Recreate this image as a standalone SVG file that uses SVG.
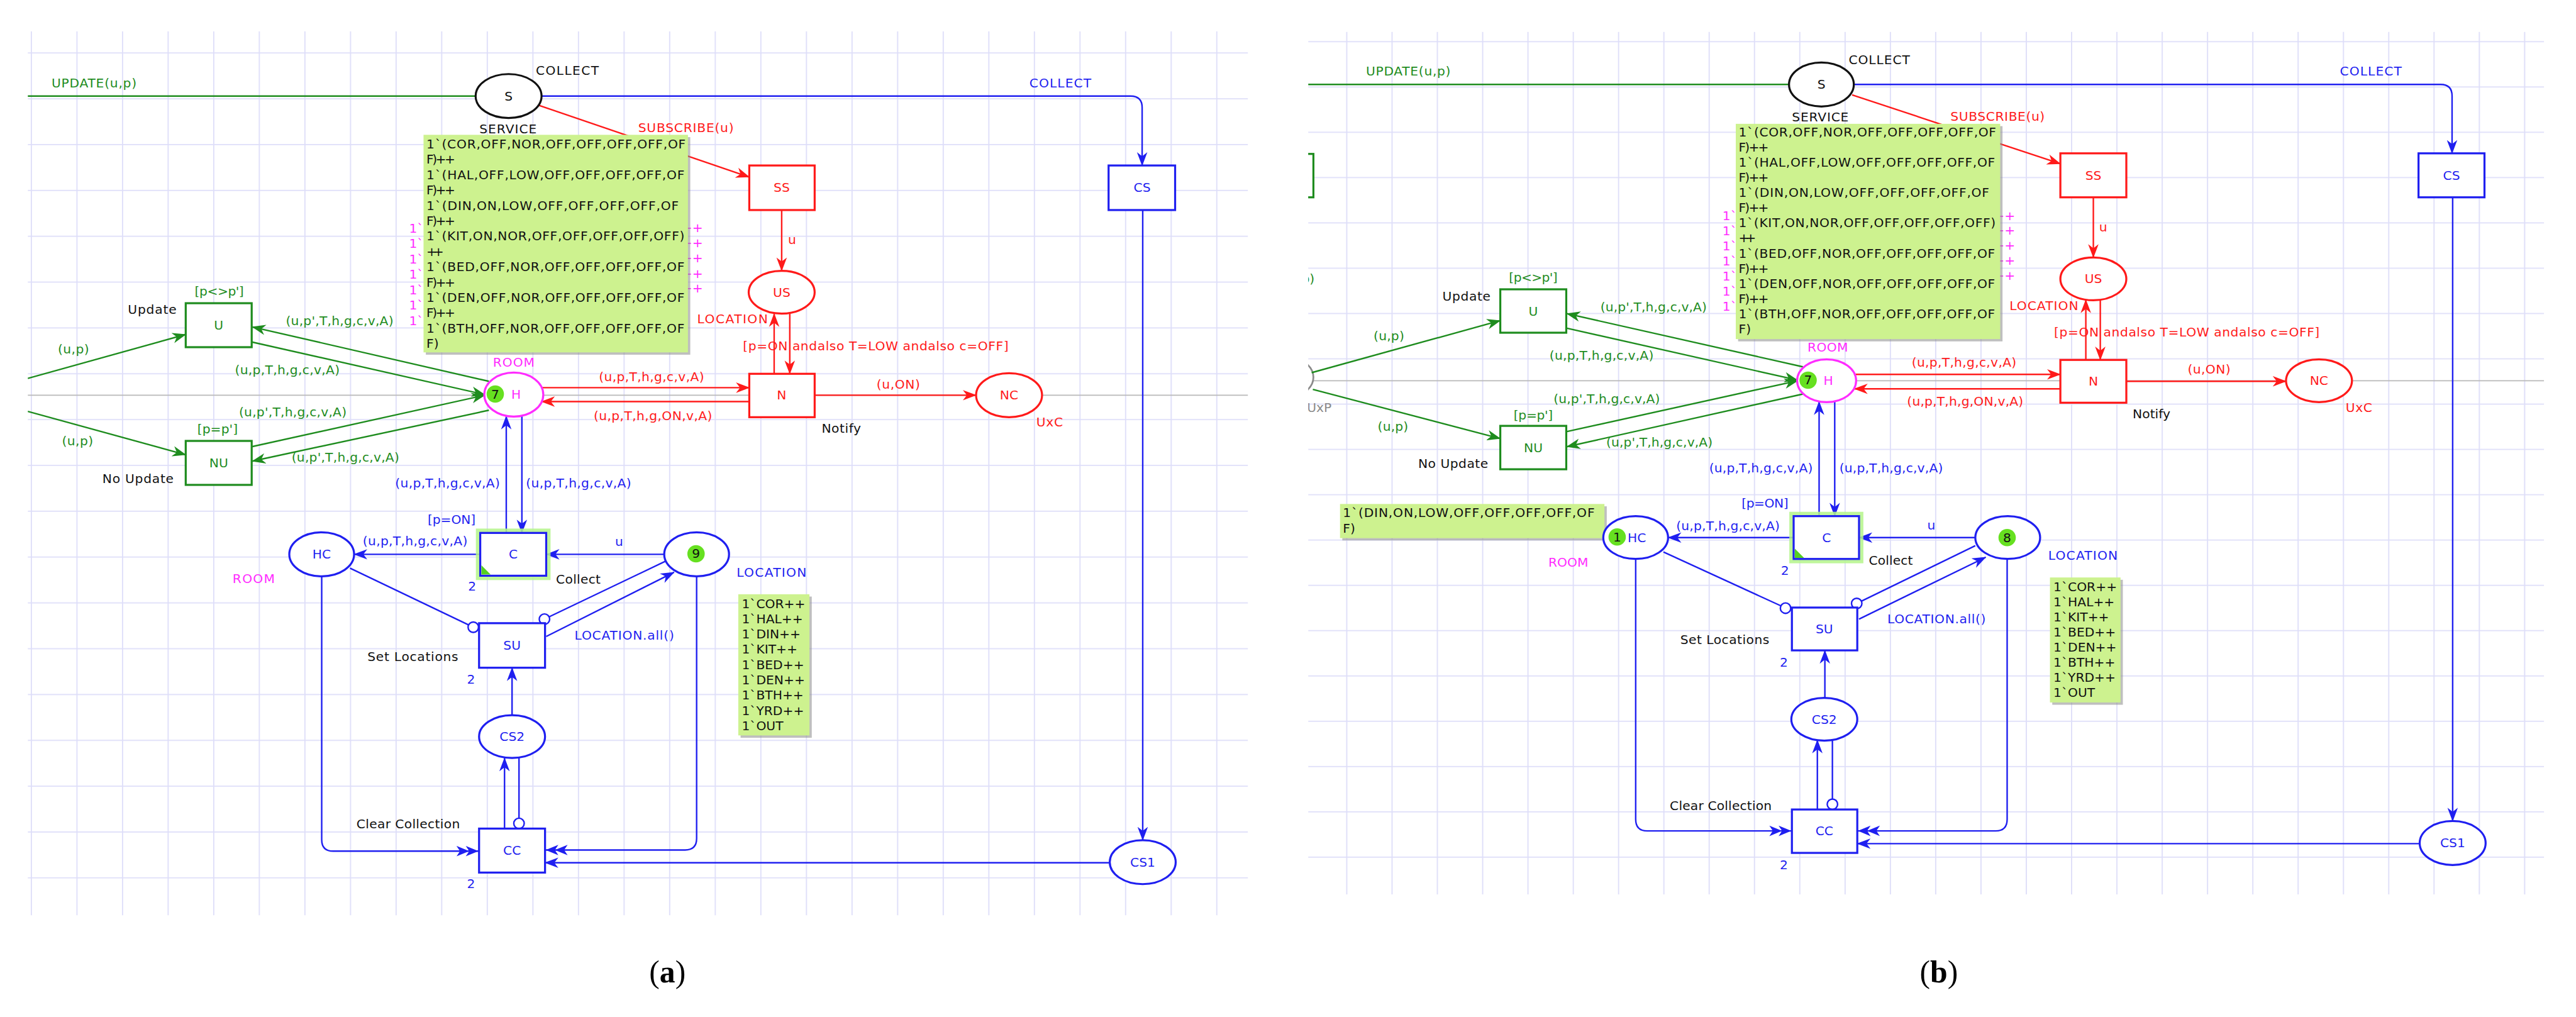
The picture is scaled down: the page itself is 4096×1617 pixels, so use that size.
<svg xmlns="http://www.w3.org/2000/svg" width="4096" height="1617" viewBox="0 0 4096 1617">
<style>
text{font-family:"DejaVu Sans","Liberation Sans",sans-serif;font-size:22px;dominant-baseline:central}
.tg{fill:#1e8c1e}.tr{fill:#ff1a1a}.tb{fill:#1f1ff0}.tk{fill:#111}.tm{fill:#ff2cff}.tgr{fill:#8a8a8a}
.mid{text-anchor:middle}.end{text-anchor:end}
.ng{fill:#fff;stroke:#1e8c1e;stroke-width:3.5}
.nr{fill:#fff;stroke:#ff1a1a;stroke-width:3.5}
.nb{fill:#fff;stroke:#1f1ff0;stroke-width:3.5}
.nk{fill:#fff;stroke:#111;stroke-width:3.5}
.nm{fill:#fff;stroke:#ff2cff;stroke-width:3.5}
.ag{fill:none;stroke:#1e8c1e;stroke-width:2.6}
.ar{fill:none;stroke:#ff1a1a;stroke-width:2.6}
.ab{fill:none;stroke:#1f1ff0;stroke-width:2.6}
.inh{fill:#fff;stroke:#1f1ff0;stroke-width:2.6}
.note{fill:#cdf28f}.shadow{fill:#8a8a8a;opacity:.55}
.nt{fill:#111;font-size:22px}
.tok{fill:#66e020}
.glow{fill:none;stroke:#b4f58a;stroke-width:7;opacity:.85}
.gray{stroke:#b9b9b9;stroke-width:2}
.lbl{font-family:"Liberation Serif",serif;font-size:54px;fill:#000;dominant-baseline:alphabetic}
</style>
<defs>
<pattern id="gridA" patternUnits="userSpaceOnUse" x="132" y="90.5" width="78.8" height="79.2"><path d="M0,1 H78.8 M1,0 V79.2" stroke="#dedef9" stroke-width="2" fill="none"/></pattern>
<pattern id="gridB" patternUnits="userSpaceOnUse" x="2326.6" y="71" width="78.3" height="78.3"><path d="M0,1 H78.3 M1,0 V78.3" stroke="#dedef9" stroke-width="2" fill="none"/></pattern>
<clipPath id="clipA"><rect x="48" y="54" width="2109" height="1528"/></clipPath>
<clipPath id="clipB"><rect x="2261" y="55" width="2136" height="1491"/></clipPath>
<marker id="mg" markerUnits="userSpaceOnUse" viewBox="0 0 24 20" markerWidth="24" markerHeight="20" refX="23" refY="10" orient="auto"><path d="M0,1 L24,10 L0,19 L7,10 z" fill="#1e8c1e"/></marker>
<marker id="mr" markerUnits="userSpaceOnUse" viewBox="0 0 24 20" markerWidth="24" markerHeight="20" refX="23" refY="10" orient="auto"><path d="M0,1 L24,10 L0,19 L7,10 z" fill="#ff1a1a"/></marker>
<marker id="mb" markerUnits="userSpaceOnUse" viewBox="0 0 24 20" markerWidth="24" markerHeight="20" refX="23" refY="10" orient="auto"><path d="M0,1 L24,10 L0,19 L7,10 z" fill="#1f1ff0"/></marker>
<marker id="mbb" markerUnits="userSpaceOnUse" viewBox="0 0 40 20" markerWidth="40" markerHeight="20" refX="39" refY="10" orient="auto"><path d="M0,1 L22,10 L0,19 L6,10 z M16,1 L38,10 L16,19 L22,10 z" fill="#1f1ff0"/></marker>
</defs>
<rect width="4096" height="1617" fill="#fff"/>
<g transform="scale(0.92)">

<!-- ================= PANEL A ================= -->
<g id="panelA" clip-path="url(#clipA)">
<rect x="48" y="54" width="2109" height="1528" fill="url(#gridA)"/>
<line class="gray" x1="48" y1="683" x2="2157" y2="683"/>

<g id="a-marking">
<text class="tm" x="707" y="395">1`</text><text class="tm" x="707" y="421">1`</text><text class="tm" x="707" y="448">1`</text><text class="tm" x="707" y="474">1`</text><text class="tm" x="707" y="501">1`</text><text class="tm" x="707" y="527">1`</text><text class="tm" x="707" y="554">1`</text>
<text class="tm" x="1178" y="393">++</text><text class="tm" x="1178" y="420">++</text><text class="tm" x="1178" y="446">++</text><text class="tm" x="1178" y="473">++</text><text class="tm" x="1178" y="498">++</text>
</g>

<g id="a-connectors">
<line class="ag" x1="48" y1="166" x2="822" y2="166"/>
<line class="ag" x1="48" y1="654" x2="321" y2="578" marker-end="url(#mg)"/>
<line class="ag" x1="48" y1="711" x2="321" y2="786" marker-end="url(#mg)"/>
<line class="ag" x1="845" y1="659" x2="436" y2="565" marker-end="url(#mg)"/>
<line class="ag" x1="435" y1="591" x2="838" y2="682" marker-end="url(#mg)"/>
<line class="ag" x1="435" y1="772" x2="838" y2="683" marker-end="url(#mg)"/>
<line class="ag" x1="845" y1="709" x2="436" y2="797" marker-end="url(#mg)"/>
<line class="ar" x1="931" y1="182" x2="1295" y2="306" marker-end="url(#mr)"/>
<line class="ar" x1="1351" y1="363" x2="1351" y2="468" marker-end="url(#mr)"/>
<line class="ar" x1="1338" y1="646" x2="1338" y2="542" marker-end="url(#mr)"/>
<line class="ar" x1="1365" y1="541" x2="1365" y2="646" marker-end="url(#mr)"/>
<line class="ar" x1="937" y1="670" x2="1295" y2="670" marker-end="url(#mr)"/>
<line class="ar" x1="1295" y1="694" x2="936" y2="694" marker-end="url(#mr)"/>
<line class="ar" x1="1408" y1="683" x2="1687" y2="683" marker-end="url(#mr)"/>
<path class="ab" d="M936,166 H1954 Q1974,166 1974,186 V286" marker-end="url(#mb)"/>
<line class="ab" x1="875" y1="921" x2="875" y2="719" marker-end="url(#mb)"/>
<line class="ab" x1="902" y1="719" x2="902" y2="921" marker-end="url(#mb)"/>
<line class="ab" x1="830" y1="958" x2="612" y2="958" marker-end="url(#mb)"/>
<line class="ab" x1="1148" y1="958" x2="944" y2="958" marker-end="url(#mb)"/>
<line class="ab" x1="605" y1="982" x2="810" y2="1080"/>
<line class="ab" x1="949" y1="1066" x2="1150" y2="970"/>
<line class="ab" x1="944" y1="1100" x2="1165" y2="989" marker-end="url(#mb)"/>
<line class="ab" x1="885" y1="1236" x2="885" y2="1154" marker-end="url(#mb)"/>
<line class="ab" x1="872" y1="1432" x2="872" y2="1310" marker-end="url(#mb)"/>
<line class="ab" x1="897" y1="1310" x2="897" y2="1414"/>
<path class="ab" d="M556,996 V1451 Q556,1471 576,1471 H828" marker-end="url(#mbb)"/>
<path class="ab" d="M1204,996 V1449 Q1204,1469 1184,1469 H942" marker-end="url(#mbb)"/>
<line class="ab" x1="1918" y1="1491" x2="942" y2="1491" marker-end="url(#mb)"/>
<line class="ab" x1="1975" y1="363" x2="1975" y2="1452" marker-end="url(#mb)"/>
<circle class="inh" cx="818" cy="1084" r="9"/>
<circle class="inh" cx="941" cy="1070" r="9"/>
<circle class="inh" cx="897" cy="1423" r="9"/>
</g>

<g id="a-note-room">
<rect class="shadow" x="736" y="237" width="457" height="376"/>
<rect class="note" x="732" y="233" width="457" height="376"/>
<text class="nt" x="737" y="249" textLength="448">1`(COR,OFF,NOR,OFF,OFF,OFF,OFF,OF</text>
<text class="nt" x="737" y="275.5" textLength="50">F)++</text>
<text class="nt" x="737" y="302" textLength="446">1`(HAL,OFF,LOW,OFF,OFF,OFF,OFF,OF</text>
<text class="nt" x="737" y="328.5" textLength="50">F)++</text>
<text class="nt" x="737" y="355" textLength="436">1`(DIN,ON,LOW,OFF,OFF,OFF,OFF,OF</text>
<text class="nt" x="737" y="381.5" textLength="50">F)++</text>
<text class="nt" x="737" y="408" textLength="446">1`(KIT,ON,NOR,OFF,OFF,OFF,OFF,OFF)</text>
<text class="nt" x="737" y="434.5" textLength="30">++</text>
<text class="nt" x="737" y="461" textLength="446">1`(BED,OFF,NOR,OFF,OFF,OFF,OFF,OF</text>
<text class="nt" x="737" y="487.5" textLength="50">F)++</text>
<text class="nt" x="737" y="514" textLength="446">1`(DEN,OFF,NOR,OFF,OFF,OFF,OFF,OF</text>
<text class="nt" x="737" y="540.5" textLength="50">F)++</text>
<text class="nt" x="737" y="567" textLength="446">1`(BTH,OFF,NOR,OFF,OFF,OFF,OFF,OF</text>
<text class="nt" x="737" y="593.5">F)</text>
</g>
<g id="a-note-loc">
<rect class="shadow" x="1280" y="1031" width="123" height="244"/>
<rect class="note" x="1276" y="1027" width="123" height="244"/>
<text class="nt" x="1282" y="1043">1`COR++</text>
<text class="nt" x="1282" y="1069.4">1`HAL++</text>
<text class="nt" x="1282" y="1095.8">1`DIN++</text>
<text class="nt" x="1282" y="1122.2">1`KIT++</text>
<text class="nt" x="1282" y="1148.6">1`BED++</text>
<text class="nt" x="1282" y="1175">1`DEN++</text>
<text class="nt" x="1282" y="1201.4">1`BTH++</text>
<text class="nt" x="1282" y="1227.8">1`YRD++</text>
<text class="nt" x="1282" y="1254.2">1`OUT</text>
</g>

<g id="a-S"><ellipse class="nk" cx="879" cy="166" rx="57" ry="38"/><text class="tk mid" x="879" y="166">S</text>
<text class="tk" x="926" y="122" textLength="109">COLLECT</text><text class="tk mid" x="878" y="223" textLength="99">SERVICE</text></g>
<g id="a-U"><rect class="ng" x="321" y="524" width="114" height="76"/><text class="tg mid" x="378" y="562">U</text>
<text class="tg mid" x="379" y="503" textLength="85">[p&lt;&gt;p']</text><text class="tk end" x="305" y="535" textLength="84">Update</text></g>
<g id="a-NU"><rect class="ng" x="321" y="762" width="114" height="76"/><text class="tg mid" x="378" y="800">NU</text>
<text class="tg mid" x="376" y="741" textLength="70">[p=p']</text><text class="tk end" x="300" y="827" textLength="123">No Update</text></g>
<g id="a-H"><ellipse class="nm" cx="888" cy="682" rx="51" ry="38"/><circle class="tok" cx="856" cy="681" r="15"/><text class="tk mid" x="856" y="681">7</text><text class="tm mid" x="892" y="682">H</text>
<text class="tm" x="852" y="626" textLength="72">ROOM</text></g>
<g id="a-SS"><rect class="nr" x="1295" y="286" width="113" height="77"/><text class="tr mid" x="1351" y="324">SS</text></g>
<g id="a-US"><ellipse class="nr" cx="1351" cy="505" rx="57" ry="37"/><text class="tr mid" x="1351" y="505">US</text>
<text class="tr" x="1205" y="551" textLength="122">LOCATION</text></g>
<g id="a-N"><rect class="nr" x="1295" y="646" width="113" height="75"/><text class="tr mid" x="1351" y="683">N</text>
<text class="tk" x="1420" y="740" textLength="68">Notify</text></g>
<g id="a-NC"><ellipse class="nr" cx="1744" cy="683" rx="57" ry="38"/><text class="tr mid" x="1744" y="683">NC</text>
<text class="tr" x="1791" y="729" textLength="46">UxC</text></g>
<g id="a-CS"><rect class="nb" x="1916" y="286" width="115" height="77"/><text class="tb mid" x="1974" y="324">CS</text></g>
<g id="a-C"><rect class="glow" x="826" y="917" width="122" height="82"/><rect class="nb" x="830" y="921" width="114" height="74"/><path d="M832,993 V977 L848,993 z" fill="#55d020"/><text class="tb mid" x="887" y="958">C</text>
<text class="tb mid" x="816" y="1013">2</text><text class="tk" x="961" y="1001" textLength="77">Collect</text><text class="tb" x="739" y="898" textLength="83">[p=ON]</text></g>
<g id="a-HC"><ellipse class="nb" cx="556" cy="958" rx="56" ry="38"/><text class="tb mid" x="556" y="958">HC</text>
<text class="tm" x="402" y="1000" textLength="73">ROOM</text></g>
<g id="a-LOC"><ellipse class="nb" cx="1204" cy="958" rx="56" ry="38"/><circle class="tok" cx="1203" cy="957" r="15"/><text class="tk mid" x="1203" y="957">9</text>
<text class="tb" x="1273" y="989" textLength="121">LOCATION</text></g>
<g id="a-SU"><rect class="nb" x="828" y="1077" width="114" height="77"/><text class="tb mid" x="885" y="1115">SU</text>
<text class="tb mid" x="814" y="1174">2</text><text class="tk" x="635" y="1135" textLength="157">Set Locations</text></g>
<g id="a-CS2"><ellipse class="nb" cx="885" cy="1273" rx="57" ry="37"/><text class="tb mid" x="885" y="1273">CS2</text></g>
<g id="a-CC"><rect class="nb" x="828" y="1432" width="114" height="76"/><text class="tb mid" x="885" y="1470">CC</text>
<text class="tb mid" x="814" y="1527">2</text><text class="tk" x="616" y="1424" textLength="179">Clear Collection</text></g>
<g id="a-CS1"><ellipse class="nb" cx="1975" cy="1490" rx="57" ry="38"/><text class="tb mid" x="1975" y="1490">CS1</text></g>

<g id="a-arc-labels">
<text class="tg" x="89" y="144" textLength="147">UPDATE(u,p)</text>
<text class="tr" x="1103" y="221" textLength="165">SUBSCRIBE(u)</text>
<text class="tb" x="1779" y="143" textLength="107">COLLECT</text>
<text class="tr" x="1362" y="414">u</text>
<text class="tr" x="1284" y="598" textLength="459">[p=ON andalso T=LOW andalso c=OFF]</text>
<text class="tr" x="1035" y="651" textLength="182">(u,p,T,h,g,c,v,A)</text>
<text class="tr" x="1026" y="718" textLength="205">(u,p,T,h,g,ON,v,A)</text>
<text class="tr" x="1515" y="664" textLength="75">(u,ON)</text>
<text class="tg" x="100" y="603" textLength="54">(u,p)</text>
<text class="tg" x="494" y="554" textLength="186">(u,p',T,h,g,c,v,A)</text>
<text class="tg" x="406" y="639" textLength="181">(u,p,T,h,g,c,v,A)</text>
<text class="tg" x="413" y="712" textLength="186">(u,p',T,h,g,c,v,A)</text>
<text class="tg" x="107" y="762" textLength="54">(u,p)</text>
<text class="tg" x="504" y="790" textLength="186">(u,p',T,h,g,c,v,A)</text>
<text class="tb" x="683" y="835" textLength="181">(u,p,T,h,g,c,v,A)</text>
<text class="tb" x="909" y="835" textLength="182">(u,p,T,h,g,c,v,A)</text>
<text class="tb" x="627" y="935" textLength="181">(u,p,T,h,g,c,v,A)</text>
<text class="tb" x="1063" y="936">u</text>
<text class="tb" x="993" y="1098" textLength="172">LOCATION.all()</text>
</g>
</g>

<!-- ================= PANEL B ================= -->
<g id="panelB" clip-path="url(#clipB)">
<rect x="2261" y="55" width="2136" height="1491" fill="url(#gridB)"/>
<line class="gray" x1="2261" y1="658" x2="4397" y2="658"/>

<g id="b-partial">
<rect class="ng" x="2156" y="266" width="114" height="75"/>
<text class="tg end" x="2272" y="482">(u,p)</text>
<ellipse cx="2214" cy="652" rx="56" ry="38" fill="#fff" stroke="#8a8a8a" stroke-width="3"/>
<text class="tgr" x="2259" y="704">UxP</text>
</g>

<g id="b-marking">
<text class="tm" x="2977" y="373">1`</text><text class="tm" x="2977" y="399">1`</text><text class="tm" x="2977" y="425">1`</text><text class="tm" x="2977" y="451">1`</text><text class="tm" x="2977" y="477">1`</text><text class="tm" x="2977" y="503">1`</text><text class="tm" x="2977" y="529">1`</text>
<text class="tm" x="3446" y="373">++</text><text class="tm" x="3446" y="398">++</text><text class="tm" x="3446" y="424">++</text><text class="tm" x="3446" y="450">++</text><text class="tm" x="3446" y="476">++</text>
</g>

<g id="b-connectors">
<line class="ag" x1="2261" y1="146" x2="3092" y2="146"/>
<line class="ag" x1="2267" y1="644" x2="2593" y2="554" marker-end="url(#mg)"/>
<line class="ag" x1="2269" y1="673" x2="2593" y2="758" marker-end="url(#mg)"/>
<line class="ag" x1="3116" y1="634" x2="2708" y2="542" marker-end="url(#mg)"/>
<line class="ag" x1="2707" y1="567" x2="3107" y2="657" marker-end="url(#mg)"/>
<line class="ag" x1="2707" y1="746" x2="3107" y2="658" marker-end="url(#mg)"/>
<line class="ag" x1="3116" y1="681" x2="2708" y2="772" marker-end="url(#mg)"/>
<line class="ar" x1="3201" y1="164" x2="3561" y2="283" marker-end="url(#mr)"/>
<line class="ar" x1="3618" y1="341" x2="3618" y2="445" marker-end="url(#mr)"/>
<line class="ar" x1="3605" y1="622" x2="3605" y2="518" marker-end="url(#mr)"/>
<line class="ar" x1="3630" y1="518" x2="3630" y2="622" marker-end="url(#mr)"/>
<line class="ar" x1="3207" y1="647" x2="3561" y2="647" marker-end="url(#mr)"/>
<line class="ar" x1="3561" y1="672" x2="3205" y2="672" marker-end="url(#mr)"/>
<line class="ar" x1="3675" y1="659" x2="3951" y2="659" marker-end="url(#mr)"/>
<path class="ab" d="M3204,146 H4218 Q4238,146 4238,166 V265" marker-end="url(#mb)"/>
<line class="ab" x1="3144" y1="892" x2="3144" y2="694" marker-end="url(#mb)"/>
<line class="ab" x1="3171" y1="694" x2="3171" y2="892" marker-end="url(#mb)"/>
<line class="ab" x1="3100" y1="929" x2="2883" y2="929" marker-end="url(#mb)"/>
<line class="ab" x1="3414" y1="929" x2="3213" y2="929" marker-end="url(#mb)"/>
<line class="ab" x1="2875" y1="954" x2="3078" y2="1047"/>
<line class="ab" x1="3217" y1="1039" x2="3414" y2="943"/>
<line class="ab" x1="3213" y1="1070" x2="3432" y2="963" marker-end="url(#mb)"/>
<line class="ab" x1="3154" y1="1206" x2="3154" y2="1124" marker-end="url(#mb)"/>
<line class="ab" x1="3141" y1="1399" x2="3141" y2="1279" marker-end="url(#mb)"/>
<line class="ab" x1="3167" y1="1279" x2="3167" y2="1381"/>
<path class="ab" d="M2827,967 V1416 Q2827,1436 2847,1436 H3097" marker-end="url(#mbb)"/>
<path class="ab" d="M3469,967 V1416 Q3469,1436 3449,1436 H3210" marker-end="url(#mbb)"/>
<line class="ab" x1="4182" y1="1458" x2="3210" y2="1458" marker-end="url(#mb)"/>
<line class="ab" x1="4239" y1="341" x2="4239" y2="1419" marker-end="url(#mb)"/>
<circle class="inh" cx="3086" cy="1051" r="9"/>
<circle class="inh" cx="3209" cy="1043" r="9"/>
<circle class="inh" cx="3167" cy="1390" r="9"/>
</g>

<g id="b-note-room">
<rect class="shadow" x="3004" y="218" width="457" height="372"/>
<rect class="note" x="3000" y="214" width="457" height="372"/>
<text class="nt" x="3005" y="228" textLength="445">1`(COR,OFF,NOR,OFF,OFF,OFF,OFF,OF</text>
<text class="nt" x="3005" y="254.2" textLength="52">F)++</text>
<text class="nt" x="3005" y="280.4" textLength="443">1`(HAL,OFF,LOW,OFF,OFF,OFF,OFF,OF</text>
<text class="nt" x="3005" y="306.6" textLength="52">F)++</text>
<text class="nt" x="3005" y="332.8" textLength="433">1`(DIN,ON,LOW,OFF,OFF,OFF,OFF,OF</text>
<text class="nt" x="3005" y="359" textLength="52">F)++</text>
<text class="nt" x="3005" y="385.2" textLength="444">1`(KIT,ON,NOR,OFF,OFF,OFF,OFF,OFF)</text>
<text class="nt" x="3005" y="411.4" textLength="30">++</text>
<text class="nt" x="3005" y="437.6" textLength="443">1`(BED,OFF,NOR,OFF,OFF,OFF,OFF,OF</text>
<text class="nt" x="3005" y="463.8" textLength="52">F)++</text>
<text class="nt" x="3005" y="490" textLength="443">1`(DEN,OFF,NOR,OFF,OFF,OFF,OFF,OF</text>
<text class="nt" x="3005" y="516.2" textLength="52">F)++</text>
<text class="nt" x="3005" y="542.4" textLength="443">1`(BTH,OFF,NOR,OFF,OFF,OFF,OFF,OF</text>
<text class="nt" x="3005" y="568.6">F)</text>
</g>
<g id="b-note-hc">
<rect class="shadow" x="2320" y="875" width="457" height="59"/>
<rect class="note" x="2316" y="871" width="457" height="59"/>
<text class="nt" x="2321" y="886" textLength="435">1`(DIN,ON,LOW,OFF,OFF,OFF,OFF,OF</text>
<text class="nt" x="2321" y="913">F)</text>
</g>
<g id="b-note-loc">
<rect class="shadow" x="3547" y="1002" width="122" height="216"/>
<rect class="note" x="3543" y="998" width="122" height="216"/>
<text class="nt" x="3549" y="1014">1`COR++</text>
<text class="nt" x="3549" y="1040.1">1`HAL++</text>
<text class="nt" x="3549" y="1066.2">1`KIT++</text>
<text class="nt" x="3549" y="1092.3">1`BED++</text>
<text class="nt" x="3549" y="1118.4">1`DEN++</text>
<text class="nt" x="3549" y="1144.5">1`BTH++</text>
<text class="nt" x="3549" y="1170.6">1`YRD++</text>
<text class="nt" x="3549" y="1196.7">1`OUT</text>
</g>

<g id="b-S"><ellipse class="nk" cx="3148" cy="146" rx="56" ry="38"/><text class="tk mid" x="3148" y="146">S</text>
<text class="tk" x="3195" y="103" textLength="106">COLLECT</text><text class="tk" x="3097" y="202" textLength="98">SERVICE</text></g>
<g id="b-U"><rect class="ng" x="2593" y="500" width="114" height="75"/><text class="tg mid" x="2650" y="538">U</text>
<text class="tg mid" x="2650" y="479" textLength="84">[p&lt;&gt;p']</text><text class="tk end" x="2576" y="512" textLength="83">Update</text></g>
<g id="b-NU"><rect class="ng" x="2593" y="736" width="114" height="75"/><text class="tg mid" x="2650" y="774">NU</text>
<text class="tg mid" x="2650" y="717" textLength="68">[p=p']</text><text class="tk" x="2451" y="801" textLength="121">No Update</text></g>
<g id="b-H"><ellipse class="nm" cx="3157" cy="658" rx="51" ry="37"/><circle class="tok" cx="3125" cy="657" r="15"/><text class="tk mid" x="3125" y="657">7</text><text class="tm mid" x="3160" y="658">H</text>
<text class="tm" x="3124" y="600" textLength="70">ROOM</text></g>
<g id="b-SS"><rect class="nr" x="3561" y="265" width="114" height="76"/><text class="tr mid" x="3618" y="303">SS</text></g>
<g id="b-US"><ellipse class="nr" cx="3618" cy="482" rx="57" ry="37"/><text class="tr mid" x="3618" y="482">US</text>
<text class="tr" x="3473" y="528" textLength="119">LOCATION</text></g>
<g id="b-N"><rect class="nr" x="3561" y="622" width="114" height="74"/><text class="tr mid" x="3618" y="659">N</text>
<text class="tk" x="3686" y="715" textLength="65">Notify</text></g>
<g id="b-NC"><ellipse class="nr" cx="4008" cy="658" rx="57" ry="37"/><text class="tr mid" x="4008" y="658">NC</text>
<text class="tr" x="4054" y="704" textLength="46">UxC</text></g>
<g id="b-CS"><rect class="nb" x="4180" y="265" width="114" height="76"/><text class="tb mid" x="4237" y="303">CS</text></g>
<g id="b-C"><rect class="glow" x="3096" y="888" width="121" height="82"/><rect class="nb" x="3100" y="892" width="113" height="74"/><path d="M3102,964 V948 L3118,964 z" fill="#55d020"/><text class="tb mid" x="3157" y="929">C</text>
<text class="tb mid" x="3085" y="986">2</text><text class="tk" x="3230" y="968" textLength="76">Collect</text><text class="tb" x="3010" y="870" textLength="81">[p=ON]</text></g>
<g id="b-HC"><ellipse class="nb" cx="2827" cy="929" rx="56" ry="37"/><text class="tb mid" x="2829" y="929">HC</text><circle class="tok" cx="2795" cy="928" r="15"/><text class="tk mid" x="2795" y="928">1</text>
<text class="tm" x="2676" y="972" textLength="69">ROOM</text></g>
<g id="b-LOC"><ellipse class="nb" cx="3470" cy="929" rx="56" ry="37"/><circle class="tok" cx="3469" cy="929" r="15"/><text class="tk mid" x="3469" y="929">8</text>
<text class="tb" x="3540" y="960" textLength="120">LOCATION</text></g>
<g id="b-SU"><rect class="nb" x="3097" y="1050" width="113" height="74"/><text class="tb mid" x="3153" y="1087">SU</text>
<text class="tb mid" x="3083" y="1145">2</text><text class="tk" x="2904" y="1105" textLength="154">Set Locations</text></g>
<g id="b-CS2"><ellipse class="nb" cx="3153" cy="1243" rx="57" ry="37"/><text class="tb mid" x="3153" y="1243">CS2</text></g>
<g id="b-CC"><rect class="nb" x="3097" y="1399" width="113" height="75"/><text class="tb mid" x="3153" y="1436">CC</text>
<text class="tb mid" x="3083" y="1495">2</text><text class="tk" x="2886" y="1392" textLength="176">Clear Collection</text></g>
<g id="b-CS1"><ellipse class="nb" cx="4239" cy="1457" rx="57" ry="38"/><text class="tb mid" x="4239" y="1457">CS1</text></g>

<g id="b-arc-labels">
<text class="tg" x="2361" y="123" textLength="146">UPDATE(u,p)</text>
<text class="tr" x="3371" y="201" textLength="163">SUBSCRIBE(u)</text>
<text class="tb" x="4044" y="123" textLength="107">COLLECT</text>
<text class="tr" x="3628" y="392">u</text>
<text class="tr" x="3550" y="574" textLength="459">[p=ON andalso T=LOW andalso c=OFF]</text>
<text class="tr" x="3304" y="626" textLength="181">(u,p,T,h,g,c,v,A)</text>
<text class="tr" x="3296" y="693" textLength="201">(u,p,T,h,g,ON,v,A)</text>
<text class="tr" x="3781" y="638" textLength="74">(u,ON)</text>
<text class="tg" x="2374" y="580" textLength="53">(u,p)</text>
<text class="tg" x="2766" y="530" textLength="184">(u,p',T,h,g,c,v,A)</text>
<text class="tg" x="2678" y="614" textLength="180">(u,p,T,h,g,c,v,A)</text>
<text class="tg" x="2685" y="689" textLength="184">(u,p',T,h,g,c,v,A)</text>
<text class="tg" x="2381" y="737" textLength="53">(u,p)</text>
<text class="tg" x="2776" y="764" textLength="184">(u,p',T,h,g,c,v,A)</text>
<text class="tb" x="2954" y="809" textLength="179">(u,p,T,h,g,c,v,A)</text>
<text class="tb" x="3179" y="809" textLength="179">(u,p,T,h,g,c,v,A)</text>
<text class="tb" x="2897" y="909" textLength="179">(u,p,T,h,g,c,v,A)</text>
<text class="tb" x="3331" y="908">u</text>
<text class="tb" x="3262" y="1070" textLength="170">LOCATION.all()</text>
</g>
</g>

<text class="lbl" x="1122" y="1698">(<tspan font-weight="bold">a</tspan>)</text>
<text class="lbl" x="3318" y="1698">(<tspan font-weight="bold">b</tspan>)</text>
</g>
</svg>
